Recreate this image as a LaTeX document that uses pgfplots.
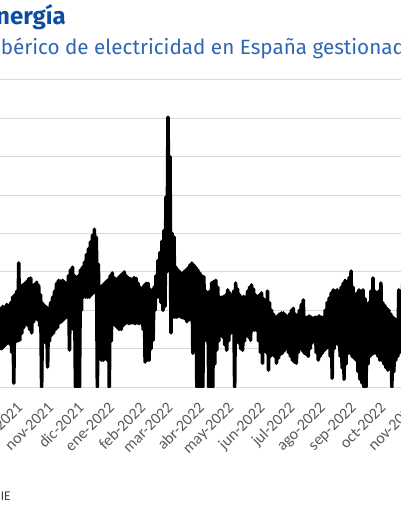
\documentclass[border=0pt]{standalone}
\usepackage{pgfplots}
\pgfplotsset{compat=1.18}
\usepackage{fontspec}
\setmainfont{Fira Sans}
\newfontfamily\carlito{Carlito}
\definecolor{titleblue}{HTML}{0D4DA1}
\definecolor{subblue}{HTML}{2F66B3}
\definecolor{gridgray}{HTML}{D9D9D9}
\definecolor{labelgray}{HTML}{595959}
\definecolor{srcgray}{HTML}{404040}
\begin{document}
\begin{tikzpicture}[x=0.75pt,y=0.75pt]
\useasboundingbox (0,-129) rectangle (400,387);
\node[anchor=base east, inner sep=0pt, text=titleblue, font=\bfseries\fontsize{18}{21}\selectfont] at (66,362) {Energía};
\node[anchor=base east, inner sep=0pt, text=subblue, font=\fontsize{15.5}{18}\selectfont] at (0.5,332.5) {Precio del mercado i};
\node[anchor=base west, inner sep=0pt, text=subblue, font=\fontsize{15.5}{18}\selectfont] at (0.5,332.5) {bérico de electricidad en España gestionado por OMIE};
\node[anchor=base east, inner sep=0pt, text=srcgray, font=\carlito\fontsize{10}{12}\selectfont] at (11,-113.5) {Fuente: OMIE};
\begin{axis}[scale only axis,
  width=321.5pt, height=230.25pt,
  xmin=-10.85, xmax=420, ymin=0, ymax=800,
  axis line style={draw=none},
  major tick length=0pt,
  ytick={0,100,...,800}, yticklabels={},
  ymajorgrids, grid style={gridgray, line width=0.75pt},
  xtick={0,31,61,92,123,151,182,212,243,273,304,335,365,396},
  xticklabels={oct-2021,nov-2021,dic-2021,ene-2022,feb-2022,mar-2022,abr-2022,may-2022,jun-2022,jul-2022,ago-2022,sep-2022,oct-2022,nov-2022},
  xticklabel style={font=\carlito\fontsize{12}{14}\selectfont, text=labelgray, inner sep=0pt, xshift=4pt, yshift=-10.5pt, rotate=45, anchor=north east},
]
\addplot[black, line width=2.7pt, line join=round, mark=none] coordinates {
(-11,96)(-10,205)(-9,100)(-8,210)(-7,105)(-6,208)(-5,110)(-4,215)(-3,115)(-2,212)(-1,112)
(0,220)(1,90)(2,235)(3,10)(4,240)(5,118)(6,250)(7,120)(8,323)(9,122)
(10,262)(11,140)(12,266)(13,155)(14,270)(15,165)(16,275)(17,160)(18,282)(19,150)
(20,284)(21,141)(22,260)(23,170)(24,268)(25,182)(26,273)(27,175)(28,265)(29,160)
(30,240)(31,0)(32,218)(33,120)(34,212)(35,115)(36,208)(37,52)(38,205)(39,120)
(40,220)(41,135)(42,234)(43,141)(44,250)(45,150)(46,270)(47,155)(48,278)(49,167)
(50,276)(51,170)(52,278)(53,175)(54,274)(55,180)(56,270)(57,182)(58,290)(59,96)
(60,305)(61,180)(62,312)(63,150)(64,290)(65,0)(66,272)(67,0)(68,290)(69,0)
(70,305)(71,200)(72,312)(73,234)(74,325)(75,234)(76,345)(77,234)(78,360)(79,234)
(80,378)(81,240)(82,395)(83,245)(84,411)(85,250)(86,390)(87,0)(88,320)(89,90)
(90,258)(91,70)(92,265)(93,70)(94,270)(95,75)(96,275)(97,70)(98,280)(99,0)
(100,290)(101,120)(102,297)(103,167)(104,285)(105,160)(106,275)(107,155)(108,285)(109,150)
(110,290)(111,150)(112,295)(113,160)(114,300)(115,165)(116,290)(117,167)(118,285)(119,165)
(120,283)(121,167)(122,280)(123,167)(124,285)(125,165)(126,283)(127,167)(128,270)(129,165)
(130,260)(131,167)(132,258)(133,150)(134,265)(135,65)(136,270)(137,70)(138,270)(139,70)
(140,255)(141,100)(142,240)(143,122)(144,260)(145,200)(146,290)(147,234)(148,330)(149,234)
(150,351)(151,220)(152,380)(153,200)(154,408)(155,210)(156,495)(157,300)(158,703)(159,400)
(160,600)(161,141)(162,401)(163,182)(164,391)(165,182)(166,312)(167,182)(168,305)(169,185)
(170,300)(171,182)(172,292)(173,180)(174,300)(175,178)(176,305)(177,170)(178,310)(179,175)
(180,318)(181,175)(182,323)(183,88)(184,318)(185,150)(186,312)(187,0)(188,305)(189,0)
(190,297)(191,0)(192,290)(193,0)(194,287)(195,141)(196,250)(197,120)(198,227)(199,0)
(200,250)(201,0)(202,271)(203,0)(204,275)(205,60)(206,278)(207,96)(208,260)(209,120)
(210,234)(211,148)(212,234)(213,130)(214,236)(215,110)(216,240)(217,96)(218,253)(219,120)
(220,245)(221,140)(222,234)(223,148)(224,250)(225,0)(226,271)(227,130)(228,255)(229,115)
(230,240)(231,100)(232,234)(233,96)(234,236)(235,120)(236,234)(237,141)(238,250)(239,130)
(240,260)(241,122)(242,266)(243,148)(244,255)(245,148)(246,240)(247,148)(248,236)(249,120)
(250,240)(251,90)(252,245)(253,62)(254,230)(255,122)(256,219)(257,90)(258,250)(259,44)
(260,220)(261,80)(262,200)(263,96)(264,190)(265,80)(266,182)(267,62)(268,185)(269,75)
(270,190)(271,85)(272,193)(273,88)(274,193)(275,95)(276,188)(277,106)(278,182)(279,90)
(280,190)(281,80)(282,200)(283,70)(284,205)(285,65)(286,190)(287,62)(288,182)(289,90)
(290,200)(291,106)(292,215)(293,95)(294,227)(295,88)(296,182)(297,85)(298,182)(299,80)
(300,185)(301,100)(302,182)(303,115)(304,180)(305,122)(306,182)(307,90)(308,182)(309,70)
(310,185)(311,80)(312,182)(313,88)(314,182)(315,95)(316,200)(317,100)(318,220)(319,106)
(320,232)(321,80)(322,245)(323,23)(324,253)(325,100)(326,250)(327,122)(328,253)(329,110)
(330,250)(331,80)(332,260)(333,50)(334,270)(335,20)(336,278)(337,60)(338,271)(339,88)
(340,285)(341,88)(342,302)(343,80)(344,260)(345,75)(346,234)(347,70)(348,245)(349,40)
(350,253)(351,20)(352,250)(353,10)(354,253)(355,0)(356,230)(357,0)(358,200)(359,60)
(360,220)(361,80)(362,250)(363,85)(364,284)(365,88)(366,250)(367,88)(368,234)(369,80)
(370,250)(371,70)(372,271)(373,70)(374,219)(375,60)(376,212)(377,50)(378,205)(379,44)
(380,200)(381,60)(382,190)(383,0)(384,182)(385,40)(386,178)(387,70)(388,175)(389,80)
(390,253)(391,90)(392,250)(393,120)(394,270)(395,110)(396,260)
};
\end{axis}
\end{tikzpicture}
\end{document}
